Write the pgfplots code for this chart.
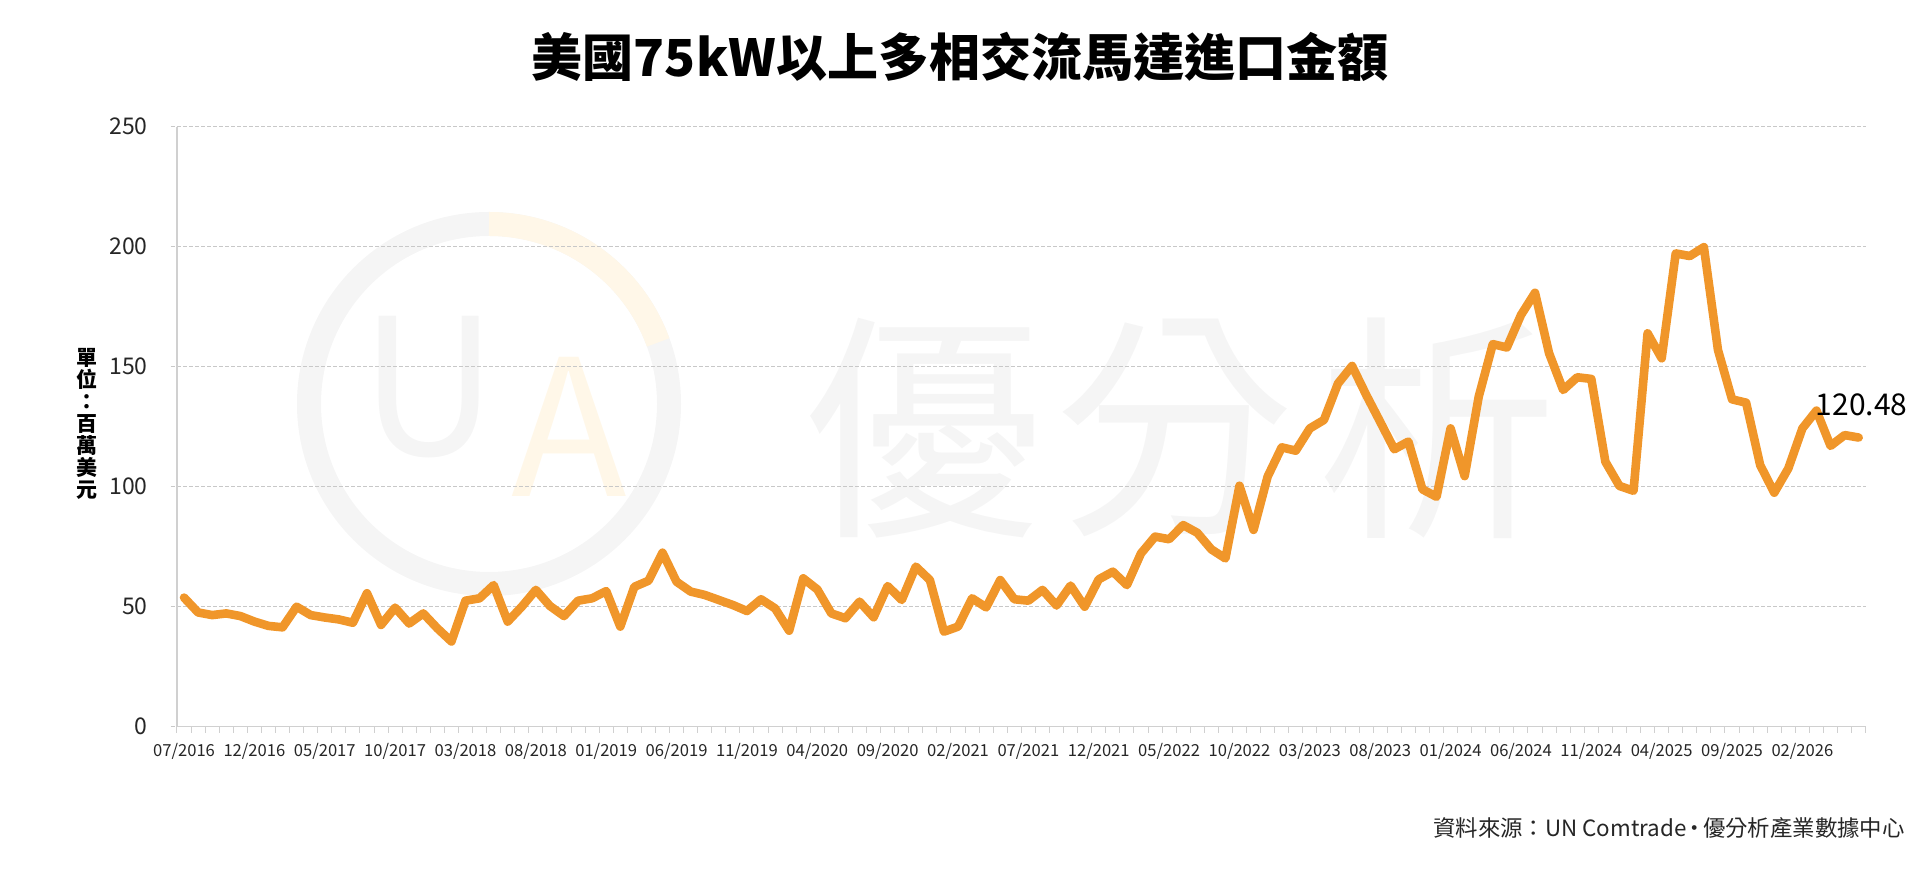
\documentclass[border=0pt]{standalone}
\usepackage{fontspec}
\setmainfont{Noto Sans CJK TC}
\usepackage{pgfplots}
\pgfplotsset{compat=1.18}
\definecolor{lineor}{RGB}{240,150,42}
\definecolor{gridc}{RGB}{200,200,200}
\definecolor{axc}{RGB}{208,208,208}
\definecolor{wm}{RGB}{245,245,245}
\definecolor{wmo}{RGB}{255,247,232}
\begin{document}
\begin{tikzpicture}
\useasboundingbox (-88.5pt,-72.15pt) rectangle (871.5pt,363.35pt);
% watermark
\draw[wm, line width=12pt] (156pt,161.35pt) circle (90pt);
\draw[wmo, line width=12pt] (156pt,161.35pt) ++(90:90pt) arc (90:20:90pt);
\node[wm, font=\fontsize{95pt}{95pt}\selectfont] at (126pt,170pt) {U};
\node[wmo, font=\fontsize{95pt}{95pt}\selectfont] at (196pt,150pt) {A};
\node[wm, font=\fontsize{120pt}{120pt}\selectfont] at (373pt,149.35pt) {優};
\node[wm, font=\fontsize{120pt}{120pt}\selectfont] at (498.5pt,149.35pt) {分};
\node[wm, font=\fontsize{120pt}{120pt}\selectfont] at (630pt,149.35pt) {析};
\begin{axis}[
  at={(0pt,0pt)}, anchor=south west,
  scale only axis, width=844.35pt, height=300pt,
  xmin=-0.5, xmax=119.5, ymin=0, ymax=250,
  axis x line*=bottom, axis y line*=left,
  axis line style={-, draw=axc, line width=0.7pt},
  ytick={0,50,100,150,200,250},
  ymajorgrids,
  grid style={draw=gridc, line width=0.5pt, dash pattern=on 2pt off 1pt},
  ytick style={draw=gridc, line width=0.5pt, dash pattern=on 2pt off 1pt},
  xtick={-0.5,0.5,...,119.5},
  xticklabels={},
  xtick style={draw=axc, line width=0.5pt},
  major tick length=3pt, tick align=outside,
  extra x ticks={0,5,...,115},
  extra x tick labels={07/2016,12/2016,05/2017,10/2017,03/2018,08/2018,01/2019,06/2019,11/2019,04/2020,09/2020,02/2021,07/2021,12/2021,05/2022,10/2022,03/2023,08/2023,01/2024,06/2024,11/2024,04/2025,09/2025,02/2026},
  extra x tick style={major tick length=0pt, grid=none,
    xticklabel style={anchor=base, yshift=-15.15pt, inner sep=0pt, font=\fontsize{8.3pt}{10pt}\selectfont, text=black!85}},
  yticklabel style={anchor=east, inner sep=0pt, xshift=-11.5pt, font=\fontsize{11.5pt}{13pt}\selectfont, text=black!85},
  /pgf/number format/assume math mode=true,
  clip=false,
]
\addplot[lineor, line width=4.3pt, line join=round, line cap=round] coordinates {
(0,53.8) (1,47.6) (2,46.5) (3,47.2) (4,46.1) (5,43.8) (6,42.0) (7,41.4) (8,50.0) (9,46.5)
(10,45.5) (11,44.7) (12,43.3) (13,55.6) (14,42.4) (15,49.6) (16,43.0) (17,47.2) (18,41.0) (19,35.5)
(20,52.5) (21,53.5) (22,59.0) (23,43.8) (24,50.0) (25,57.0) (26,50.3) (27,46.1) (28,52.5) (29,53.5)
(30,56.5) (31,41.7) (32,58.3) (33,60.8) (34,72.5) (35,60.4) (36,56.3) (37,54.9) (38,52.8) (39,50.7)
(40,48.2) (41,53.1) (42,49.3) (43,40.0) (44,61.8) (45,57.2) (46,47.2) (47,45.2) (48,52.1) (49,45.6)
(50,58.6) (51,52.8) (52,66.7) (53,61.1) (54,39.6) (55,41.7) (56,53.5) (57,49.7) (58,61.1) (59,53.1)
(60,52.5) (61,57.0) (62,50.5) (63,58.8) (64,50.0) (65,61.4) (66,64.6) (67,59.0) (68,72.2) (69,79.2)
(70,78.1) (71,84.0) (72,80.8) (73,73.9) (74,70.1) (75,100.4) (76,82.0) (77,104.2) (78,116.4) (79,115.0)
(80,124.3) (81,127.8) (82,143.0) (83,150.3) (84,138.3) (85,127.0) (86,115.6) (87,118.8) (88,98.9) (89,95.8)
(90,124.3) (91,104.4) (92,137.5) (93,159.4) (94,158.0) (95,171.5) (96,180.8) (97,155.6) (98,140.3) (99,145.6)
(100,144.9) (101,110.4) (102,100.3) (103,98.3) (104,163.9) (105,153.5) (106,197.2) (107,196.1) (108,199.8) (109,157.0)
(110,136.4) (111,135.0) (112,109.0) (113,97.5) (114,107.6) (115,124.3) (116,131.7) (117,117.0) (118,121.5) (119,120.48)
};
\node[anchor=base, inner sep=0pt, font=\fontsize{15pt}{17pt}\selectfont, xshift=1.5pt, yshift=11pt] at (axis cs:119,120.48) {120.48};
\end{axis}
\node[font=\bfseries\fontsize{25.5pt}{30pt}\selectfont] at (391.5pt,334.85pt) {美國75kW以上多相交流馬達進口金額};
\node[font=\bfseries\fontsize{10.5pt}{11pt}\selectfont, align=center, inner sep=0pt] at (-45pt,151.35pt) {單\\位\\：\\百\\萬\\美\\元};
\node[anchor=east, inner sep=0pt, font=\fontsize{11.2pt}{13pt}\selectfont, text=black!85] at (864pt,-50.65pt) {資料來源：UN Comtrade\kern-1.5pt·\kern-1.5pt優分析產業數據中心};
\end{tikzpicture}
\end{document}
